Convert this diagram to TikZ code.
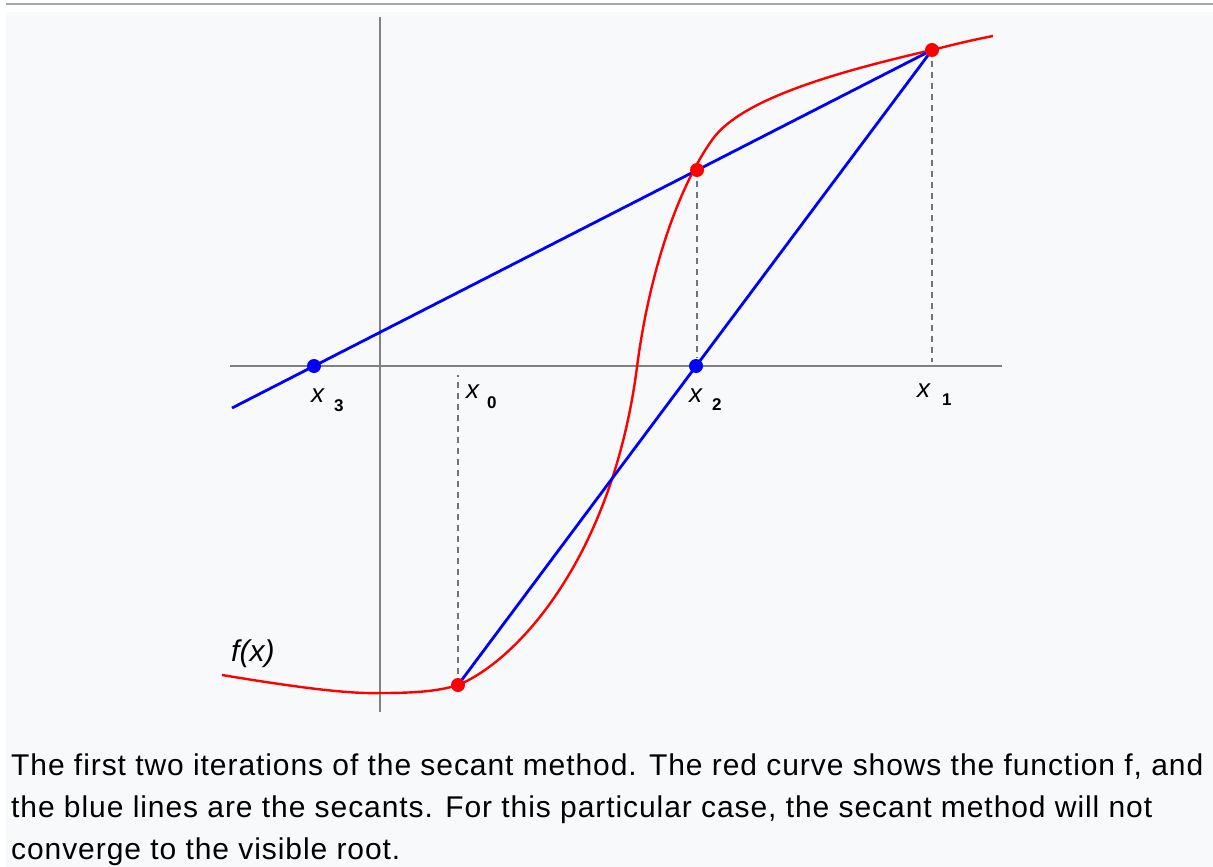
\documentclass[tikz,border=0pt]{standalone}
\usepackage{fontspec}
\setmainfont{Liberation Sans}
\begin{document}
\begin{tikzpicture}[x=1pt,y=-1pt,
  axisline/.style={draw=black!50, line width=2pt},
  guide/.style={draw=black!55, line width=1.8pt, dash pattern=on 6pt off 5pt},
  secant/.style={draw=blue, line width=2.8pt},
  fcurve/.style={draw=red, line width=2.4pt},
  reddot/.style={circle, fill=red, inner sep=0pt, minimum size=14pt},
  bluedot/.style={circle, fill=blue, inner sep=0pt, minimum size=14pt},
  xlab/.style={inner sep=0pt, anchor=base west, font=\fontsize{26}{26}\selectfont\itshape},
  sublab/.style={inner sep=0pt, anchor=base west, font=\fontsize{17}{17}\selectfont\bfseries}
]
\definecolor{panel}{HTML}{F8F9FA}
\definecolor{rule}{HTML}{A2A9B1}
\useasboundingbox (0,0) rectangle (1213,867);
\fill[white] (0,0) rectangle (1213,867);
\fill[panel] (6,12) rectangle (1213,867);
\draw[draw=rule, line width=2pt] (6,4) -- (1213,4);

% axes
\coordinate (XL) at (230,366);
\coordinate (XR) at (1002,366);
\coordinate (YT) at (380,17);
\coordinate (YB) at (380,712);
\draw[axisline] (XL) -- (XR);
\draw[axisline] (YT) -- (YB);

% points
\coordinate (P0) at (458,685);
\coordinate (P1) at (932,50);
\coordinate (P2) at (697,170);
\coordinate (R2) at (696,366);
\coordinate (R3) at (314,366);
\coordinate (E3) at (232,408);
\coordinate (D0) at (458,375);
\coordinate (D2) at (697,358);
\coordinate (D1) at (932,362);

% guides
\draw[guide] (P0) -- (D0);
\draw[guide] (P2) -- (D2);
\draw[guide] (P1) -- (D1);

% function curve
\draw[fcurve] (222,675) .. controls (300,688) and (350,694) .. (380,693)
  .. controls (410,693) and (436,692) .. (P0)
  .. controls (515,662) and (612,560) .. (637,367)
  .. controls (650,267) and (680,185) .. (712,140)
  .. controls (740,100) and (832,73) .. (P1)
  .. controls (952,45) and (972,40) .. (993,36);

% secants
\draw[secant] (P0) -- (P1);
\draw[secant] (P1) -- (E3);

% dots
\node[reddot] (d0) at (P0) {};
\node[reddot] (d1) at (P1) {};
\node[reddot] (d2) at (P2) {};
\node[bluedot] (b2) at (R2) {};
\node[bluedot] (b3) at (R3) {};

% labels
\node[xlab] (l3) at (311,402) {x};
\node[sublab] (s3) at (334,411) {3};
\node[xlab] (l0) at (466,398) {x};
\node[sublab] (s0) at (487,408) {0};
\node[xlab] (l2) at (689,402) {x};
\node[sublab] (s2) at (712,410) {2};
\node[xlab] (l1) at (917,397) {x};
\node[sublab] (s1) at (942,405) {1};
\node[inner sep=0pt, anchor=base west, font=\fontsize{30}{30}\selectfont\itshape] (fx) at (231,661) {f(x)};

% caption
\node[inner sep=0pt, anchor=base west, align=left, font=\fontsize{30}{42}\selectfont\addfontfeature{LetterSpace=3.1}] (cap) at (11,859)
 {The first two iterations of the secant method. The red curve shows the function f, and\\
  the blue lines are the secants. For this particular case, the secant method will not\\
  converge to the visible root.};
\end{tikzpicture}
\end{document}
